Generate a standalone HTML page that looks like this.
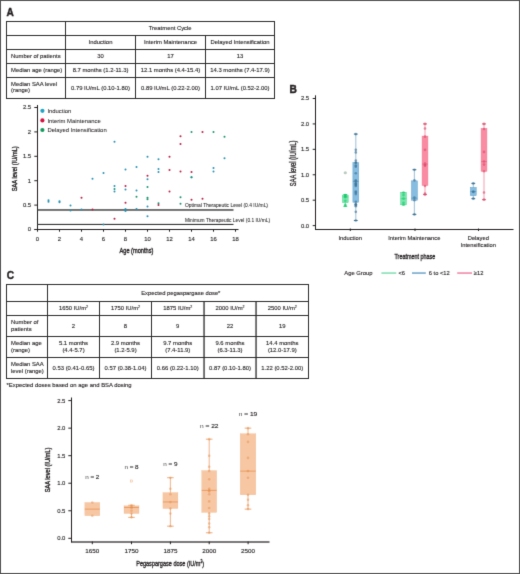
<!DOCTYPE html>
<html><head><meta charset="utf-8"><style>
html,body{margin:0;padding:0;background:#fff;}
svg{display:block;}
text{font-family:"Liberation Sans", sans-serif;stroke:#231f20;stroke-width:0.12px;}
</style></head><body>
<svg width="520" height="574" viewBox="0 0 520 574">
<defs><filter id="soft" x="0" y="0" width="520" height="574" filterUnits="userSpaceOnUse" color-interpolation-filters="sRGB"><feConvolveMatrix order="3" kernelMatrix="1.1 8.4 1.1 8.4 62 8.4 1.1 8.4 1.1" edgeMode="duplicate"/></filter></defs>
<g filter="url(#soft)">
<rect width="520" height="574" fill="#fff"/>
<rect x="0" y="0" width="520" height="1" fill="#505050"/>
<rect x="0" y="573" width="520" height="1" fill="#505050"/>
<rect x="0" y="0" width="1" height="574" fill="#505050"/>
<rect x="519" y="0" width="1" height="574" fill="#505050"/>
<text x="6.5" y="15.6" font-size="10.1" text-anchor="start" fill="#231f20" font-weight="bold" style="stroke-width:0.4px">A</text>
<rect x="6" y="21" width="269" height="1" fill="#2b2b2b"/>
<rect x="6" y="35" width="269" height="1" fill="#2b2b2b"/>
<rect x="6" y="49" width="269" height="1" fill="#2b2b2b"/>
<rect x="6" y="63" width="269" height="1" fill="#2b2b2b"/>
<rect x="6" y="77" width="269" height="1" fill="#2b2b2b"/>
<rect x="6" y="98" width="269" height="1" fill="#2b2b2b"/>
<rect x="6" y="21" width="1" height="78" fill="#2b2b2b"/>
<rect x="65" y="21" width="1" height="78" fill="#2b2b2b"/>
<rect x="135" y="35" width="1" height="64" fill="#2b2b2b"/>
<rect x="205" y="35" width="1" height="64" fill="#2b2b2b"/>
<rect x="274" y="21" width="1" height="78" fill="#2b2b2b"/>
<text x="170.2" y="30.2" font-size="5.88" text-anchor="middle" fill="#231f20">Treatment Cycle</text>
<text x="100.5" y="44.1" font-size="5.88" text-anchor="middle" fill="#231f20">Induction</text>
<text x="170.5" y="44.1" font-size="5.88" text-anchor="middle" fill="#231f20">Interim Maintenance</text>
<text x="240.0" y="44.1" font-size="5.88" text-anchor="middle" fill="#231f20">Delayed Intensification</text>
<text x="11" y="58.2" font-size="5.88" text-anchor="start" fill="#231f20">Number of patients</text>
<text x="100.5" y="58.2" font-size="5.88" text-anchor="middle" fill="#231f20">30</text>
<text x="170.5" y="58.2" font-size="5.88" text-anchor="middle" fill="#231f20">17</text>
<text x="240.0" y="58.2" font-size="5.88" text-anchor="middle" fill="#231f20">13</text>
<text x="11" y="72.2" font-size="5.88" text-anchor="start" fill="#231f20">Median age (range)</text>
<text x="100.5" y="72.2" font-size="5.88" text-anchor="middle" fill="#231f20">8.7 months (1.2-11.3)</text>
<text x="170.5" y="72.2" font-size="5.88" text-anchor="middle" fill="#231f20">12.1 months (4.4-15.4)</text>
<text x="240.0" y="72.2" font-size="5.88" text-anchor="middle" fill="#231f20">14.3 months (7.4-17.9)</text>
<text x="11" y="85.6" font-size="5.88" text-anchor="start" fill="#231f20">Median SAA level</text>
<text x="11" y="92.3" font-size="5.88" text-anchor="start" fill="#231f20">(range)</text>
<text x="100.5" y="89.5" font-size="5.88" text-anchor="middle" fill="#231f20">0.79 IU/mL (0.10-1.80)</text>
<text x="170.5" y="89.5" font-size="5.88" text-anchor="middle" fill="#231f20">0.89 IU/mL (0.22-2.00)</text>
<text x="240.0" y="89.5" font-size="5.88" text-anchor="middle" fill="#231f20">1.07 IU/mL (0.52-2.00)</text>
<rect x="37" y="105" width="1" height="125" fill="#231f20"/>
<rect x="34.5" y="229" width="204.0" height="1" fill="#231f20"/>
<rect x="34.3" y="229.00" width="3" height="1" fill="#231f20"/>
<text x="31.1" y="231.45" font-size="5.9" text-anchor="end" fill="#231f20">0</text>
<rect x="34.3" y="204.60" width="3" height="1" fill="#231f20"/>
<text x="31.1" y="207.04999999999998" font-size="5.9" text-anchor="end" fill="#231f20">0.5</text>
<rect x="34.3" y="180.20" width="3" height="1" fill="#231f20"/>
<text x="31.1" y="182.64999999999998" font-size="5.9" text-anchor="end" fill="#231f20">1</text>
<rect x="34.3" y="155.80" width="3" height="1" fill="#231f20"/>
<text x="31.1" y="158.25" font-size="5.9" text-anchor="end" fill="#231f20">1.5</text>
<rect x="34.3" y="131.40" width="3" height="1" fill="#231f20"/>
<text x="31.1" y="133.85" font-size="5.9" text-anchor="end" fill="#231f20">2</text>
<rect x="34.3" y="107.00" width="3" height="1" fill="#231f20"/>
<text x="31.1" y="109.45" font-size="5.9" text-anchor="end" fill="#231f20">2.5</text>
<rect x="37.00" y="229" width="1" height="2.7" fill="#231f20"/>
<text x="37.5" y="240.7" font-size="5.9" text-anchor="middle" fill="#231f20">0</text>
<rect x="59.00" y="229" width="1" height="2.7" fill="#231f20"/>
<text x="59.5" y="240.7" font-size="5.9" text-anchor="middle" fill="#231f20">2</text>
<rect x="81.00" y="229" width="1" height="2.7" fill="#231f20"/>
<text x="81.5" y="240.7" font-size="5.9" text-anchor="middle" fill="#231f20">4</text>
<rect x="103.00" y="229" width="1" height="2.7" fill="#231f20"/>
<text x="103.5" y="240.7" font-size="5.9" text-anchor="middle" fill="#231f20">6</text>
<rect x="125.00" y="229" width="1" height="2.7" fill="#231f20"/>
<text x="125.5" y="240.7" font-size="5.9" text-anchor="middle" fill="#231f20">8</text>
<rect x="147.00" y="229" width="1" height="2.7" fill="#231f20"/>
<text x="147.5" y="240.7" font-size="5.9" text-anchor="middle" fill="#231f20">10</text>
<rect x="169.00" y="229" width="1" height="2.7" fill="#231f20"/>
<text x="169.5" y="240.7" font-size="5.9" text-anchor="middle" fill="#231f20">12</text>
<rect x="191.00" y="229" width="1" height="2.7" fill="#231f20"/>
<text x="191.5" y="240.7" font-size="5.9" text-anchor="middle" fill="#231f20">14</text>
<rect x="213.00" y="229" width="1" height="2.7" fill="#231f20"/>
<text x="213.5" y="240.7" font-size="5.9" text-anchor="middle" fill="#231f20">16</text>
<rect x="235.00" y="229" width="1" height="2.7" fill="#231f20"/>
<text x="235.5" y="240.7" font-size="5.9" text-anchor="middle" fill="#231f20">18</text>
<rect x="37" y="209.3" width="196.5" height="1.35" fill="#333333"/>
<rect x="37" y="223.9" width="196.5" height="1.1" fill="#333333"/>
<text x="185" y="207.4" font-size="5.0" text-anchor="start" fill="#231f20" textLength="83" lengthAdjust="spacingAndGlyphs" style="stroke-width:0.06px">Optimal Therapeutic Level (0.4 IU/mL)</text>
<text x="185" y="221.9" font-size="5.0" text-anchor="start" fill="#231f20" textLength="85" lengthAdjust="spacingAndGlyphs" style="stroke-width:0.06px">Minimum Therapeutic Level (0.1 IU/mL)</text>
<text x="136.45" y="253.0" font-size="7.8" text-anchor="middle" fill="#231f20" textLength="33.9" lengthAdjust="spacingAndGlyphs" style="stroke-width:0.38px">Age (months)</text>
<text x="17.3" y="168.8" font-size="7.8" text-anchor="middle" fill="#231f20" textLength="45" lengthAdjust="spacingAndGlyphs" transform="rotate(-90 17.3 168.8)" style="stroke-width:0.38px">SAA level (IU/mL)</text>
<circle cx="42.4" cy="110.8" r="2.1" fill="#1fa3c4"/>
<text x="47.4" y="112.9" font-size="5.9" text-anchor="start" fill="#231f20" style="stroke-width:0.05px">Induction</text>
<circle cx="42.4" cy="120.4" r="2.1" fill="#d3123f"/>
<text x="47.4" y="122.5" font-size="5.9" text-anchor="start" fill="#231f20" style="stroke-width:0.05px">Interim Maintenance</text>
<circle cx="42.4" cy="130.0" r="2.1" fill="#139a5e"/>
<text x="47.4" y="131.9" font-size="5.9" text-anchor="start" fill="#231f20" style="stroke-width:0.05px">Delayed Intensification</text>
<circle cx="48.50" cy="200.22" r="1.0" fill="#2590b0"/>
<circle cx="48.50" cy="201.68" r="1.0" fill="#2590b0"/>
<circle cx="59.50" cy="201.20" r="1.0" fill="#2590b0"/>
<circle cx="59.50" cy="202.17" r="1.0" fill="#2590b0"/>
<circle cx="70.50" cy="205.59" r="1.0" fill="#2590b0"/>
<circle cx="70.50" cy="210.47" r="1.0" fill="#2590b0"/>
<circle cx="81.50" cy="209.49" r="1.0" fill="#2590b0"/>
<circle cx="92.50" cy="178.75" r="1.0" fill="#2590b0"/>
<circle cx="103.50" cy="172.89" r="1.0" fill="#2590b0"/>
<circle cx="103.50" cy="224.62" r="1.0" fill="#2590b0"/>
<circle cx="114.50" cy="141.66" r="1.0" fill="#2590b0"/>
<circle cx="114.50" cy="186.07" r="1.0" fill="#2590b0"/>
<circle cx="114.50" cy="191.44" r="1.0" fill="#2590b0"/>
<circle cx="125.50" cy="169.48" r="1.0" fill="#2590b0"/>
<circle cx="125.50" cy="189.48" r="1.0" fill="#2590b0"/>
<circle cx="125.50" cy="209.00" r="1.0" fill="#2590b0"/>
<circle cx="125.50" cy="209.98" r="1.0" fill="#2590b0"/>
<circle cx="125.50" cy="210.96" r="1.0" fill="#2590b0"/>
<circle cx="136.50" cy="167.04" r="1.0" fill="#2590b0"/>
<circle cx="136.50" cy="190.46" r="1.0" fill="#2590b0"/>
<circle cx="136.50" cy="209.00" r="1.0" fill="#2590b0"/>
<circle cx="147.50" cy="156.79" r="1.0" fill="#2590b0"/>
<circle cx="147.50" cy="179.24" r="1.0" fill="#2590b0"/>
<circle cx="147.50" cy="206.56" r="1.0" fill="#2590b0"/>
<circle cx="147.50" cy="216.32" r="1.0" fill="#2590b0"/>
<circle cx="158.50" cy="159.23" r="1.0" fill="#2590b0"/>
<circle cx="158.50" cy="168.99" r="1.0" fill="#2590b0"/>
<circle cx="158.50" cy="171.92" r="1.0" fill="#2590b0"/>
<circle cx="191.50" cy="177.28" r="1.0" fill="#2590b0"/>
<circle cx="213.50" cy="168.01" r="1.0" fill="#2590b0"/>
<circle cx="213.50" cy="171.43" r="1.0" fill="#2590b0"/>
<circle cx="224.50" cy="158.25" r="1.0" fill="#2590b0"/>
<circle cx="81.50" cy="197.78" r="1.0" fill="#b81c44"/>
<circle cx="92.50" cy="209.49" r="1.0" fill="#b81c44"/>
<circle cx="114.50" cy="218.76" r="1.0" fill="#b81c44"/>
<circle cx="125.50" cy="186.07" r="1.0" fill="#b81c44"/>
<circle cx="125.50" cy="202.66" r="1.0" fill="#b81c44"/>
<circle cx="147.50" cy="175.82" r="1.0" fill="#b81c44"/>
<circle cx="158.50" cy="205.10" r="1.0" fill="#b81c44"/>
<circle cx="169.50" cy="156.79" r="1.0" fill="#b81c44"/>
<circle cx="169.50" cy="169.96" r="1.0" fill="#b81c44"/>
<circle cx="169.50" cy="191.44" r="1.0" fill="#b81c44"/>
<circle cx="180.50" cy="136.29" r="1.0" fill="#b81c44"/>
<circle cx="180.50" cy="144.10" r="1.0" fill="#b81c44"/>
<circle cx="180.50" cy="171.43" r="1.0" fill="#b81c44"/>
<circle cx="191.50" cy="171.92" r="1.0" fill="#b81c44"/>
<circle cx="191.50" cy="199.73" r="1.0" fill="#b81c44"/>
<circle cx="202.50" cy="131.90" r="1.0" fill="#b81c44"/>
<circle cx="202.50" cy="198.76" r="1.0" fill="#b81c44"/>
<circle cx="114.50" cy="189.00" r="1.0" fill="#1a9070"/>
<circle cx="136.50" cy="196.80" r="1.0" fill="#1a9070"/>
<circle cx="147.50" cy="187.04" r="1.0" fill="#1a9070"/>
<circle cx="147.50" cy="197.78" r="1.0" fill="#1a9070"/>
<circle cx="147.50" cy="199.24" r="1.0" fill="#1a9070"/>
<circle cx="158.50" cy="203.15" r="1.0" fill="#1a9070"/>
<circle cx="180.50" cy="197.29" r="1.0" fill="#1a9070"/>
<circle cx="180.50" cy="203.64" r="1.0" fill="#1a9070"/>
<circle cx="191.50" cy="131.90" r="1.0" fill="#1a9070"/>
<circle cx="191.50" cy="177.28" r="1.0" fill="#1a9070"/>
<circle cx="213.50" cy="131.90" r="1.0" fill="#1a9070"/>
<circle cx="224.50" cy="136.78" r="1.0" fill="#1a9070"/>
<text x="289.4" y="92.6" font-size="10.2" text-anchor="start" fill="#231f20" font-weight="bold" style="stroke-width:0.45px">B</text>
<rect x="315" y="95.3" width="1" height="134.7" fill="#231f20"/>
<rect x="315" y="229" width="198.5" height="1" fill="#231f20"/>
<rect x="312.7" y="225.10" width="2.5" height="1" fill="#231f20"/>
<text x="309.1" y="227.54999999999998" font-size="5.9" text-anchor="end" fill="#231f20">0.0</text>
<rect x="312.7" y="199.68" width="2.5" height="1" fill="#231f20"/>
<text x="309.1" y="202.13" font-size="5.9" text-anchor="end" fill="#231f20">0.5</text>
<rect x="312.7" y="174.26" width="2.5" height="1" fill="#231f20"/>
<text x="309.1" y="176.70999999999998" font-size="5.9" text-anchor="end" fill="#231f20">1.0</text>
<rect x="312.7" y="148.84" width="2.5" height="1" fill="#231f20"/>
<text x="309.1" y="151.28999999999996" font-size="5.9" text-anchor="end" fill="#231f20">1.5</text>
<rect x="312.7" y="123.42" width="2.5" height="1" fill="#231f20"/>
<text x="309.1" y="125.86999999999999" font-size="5.9" text-anchor="end" fill="#231f20">2.0</text>
<rect x="312.7" y="98.00" width="2.5" height="1" fill="#231f20"/>
<text x="309.1" y="100.44999999999999" font-size="5.9" text-anchor="end" fill="#231f20">2.5</text>
<rect x="349.8" y="228.5" width="1" height="2.5" fill="#231f20"/>
<rect x="414.5" y="228.5" width="1" height="2.5" fill="#231f20"/>
<rect x="478.0" y="228.5" width="1" height="2.5" fill="#231f20"/>
<text x="350.2" y="240.1" font-size="5.75" text-anchor="middle" fill="#231f20">Induction</text>
<text x="414.3" y="240.1" font-size="5.75" text-anchor="middle" fill="#231f20">Interim Maintenance</text>
<text x="478.3" y="240.1" font-size="5.75" text-anchor="middle" fill="#231f20">Delayed</text>
<text x="478.3" y="247.2" font-size="5.75" text-anchor="middle" fill="#231f20">Intensification</text>
<text x="414.85" y="258.8" font-size="7.6" text-anchor="middle" fill="#231f20" textLength="40.7" lengthAdjust="spacingAndGlyphs" style="stroke-width:0.34px">Treatment phase</text>
<text x="296.4" y="163.4" font-size="8.2" text-anchor="middle" fill="#231f20" textLength="45.6" lengthAdjust="spacingAndGlyphs" transform="rotate(-90 296.4 163.4)" style="stroke-width:0.34px">SAA level (IU/mL)</text>
<text x="344.3" y="275" font-size="5.85" text-anchor="start" fill="#231f20">Age Group</text>
<rect x="381.4" y="272.4" width="14.900000000000034" height="1.3" fill="#6cd9a6"/>
<text x="398.4" y="275" font-size="5.75" text-anchor="start" fill="#231f20">&lt;6</text>
<rect x="412" y="272.4" width="13.800000000000011" height="1.3" fill="#5596c2"/>
<text x="428.8" y="275" font-size="5.75" text-anchor="start" fill="#231f20">6 to &lt;12</text>
<rect x="457.2" y="272.4" width="14.800000000000011" height="1.3" fill="#ef6f93"/>
<text x="473.8" y="275" font-size="5.75" text-anchor="start" fill="#231f20">≥12</text>
<line x1="345.3" x2="345.3" y1="194.59" y2="206.28" stroke="#7fe0ae" stroke-width="1.1"/>
<line x1="343.40000000000003" x2="347.2" y1="194.59" y2="194.59" stroke="#16c96a" stroke-width="1"/>
<line x1="343.40000000000003" x2="347.2" y1="206.28" y2="206.28" stroke="#16c96a" stroke-width="1"/>
<rect x="342.40" y="195.10" width="5.8" height="7.63" fill="#7de6ae" stroke="#4fd892" stroke-width="0.5"/>
<line x1="342.40" x2="348.20" y1="196.88" y2="196.88" stroke="#16c96a" stroke-width="0.6" stroke-opacity="0.7"/>
<circle cx="345.3" cy="205.77" r="1.3" fill="#16c96a" fill-opacity="0.62"/>
<circle cx="345.3" cy="204.76" r="1.3" fill="#16c96a" fill-opacity="0.62"/>
<circle cx="345.3" cy="200.69" r="1.3" fill="#16c96a" fill-opacity="0.62"/>
<circle cx="345.3" cy="197.13" r="1.3" fill="#16c96a" fill-opacity="0.62"/>
<circle cx="345.3" cy="196.62" r="1.3" fill="#16c96a" fill-opacity="0.62"/>
<circle cx="345.3" cy="196.11" r="1.3" fill="#16c96a" fill-opacity="0.62"/>
<circle cx="345.3" cy="195.10" r="1.3" fill="#16c96a" fill-opacity="0.62"/>
<circle cx="345.3" cy="172.73" r="1.6" fill="#b9cbbf"/>
<line x1="355.8" x2="355.8" y1="134.09" y2="220.52" stroke="#a5c6da" stroke-width="1.1"/>
<line x1="353.90000000000003" x2="357.7" y1="134.09" y2="134.09" stroke="#3a6f92" stroke-width="1"/>
<line x1="353.90000000000003" x2="357.7" y1="220.52" y2="220.52" stroke="#3a6f92" stroke-width="1"/>
<rect x="352.90" y="162.56" width="5.8" height="39.66" fill="#86bde0" stroke="#5d9fcb" stroke-width="0.5"/>
<line x1="352.90" x2="358.70" y1="181.37" y2="181.37" stroke="#3a6f92" stroke-width="0.6" stroke-opacity="0.7"/>
<circle cx="355.8" cy="220.52" r="1.3" fill="#3a6f92" fill-opacity="0.62"/>
<circle cx="355.8" cy="211.87" r="1.3" fill="#3a6f92" fill-opacity="0.62"/>
<circle cx="355.8" cy="206.28" r="1.3" fill="#3a6f92" fill-opacity="0.62"/>
<circle cx="355.8" cy="205.26" r="1.3" fill="#3a6f92" fill-opacity="0.62"/>
<circle cx="355.8" cy="204.25" r="1.3" fill="#3a6f92" fill-opacity="0.62"/>
<circle cx="355.8" cy="204.25" r="1.3" fill="#3a6f92" fill-opacity="0.62"/>
<circle cx="355.8" cy="201.71" r="1.3" fill="#3a6f92" fill-opacity="0.62"/>
<circle cx="355.8" cy="194.08" r="1.3" fill="#3a6f92" fill-opacity="0.62"/>
<circle cx="355.8" cy="192.55" r="1.3" fill="#3a6f92" fill-opacity="0.62"/>
<circle cx="355.8" cy="191.54" r="1.3" fill="#3a6f92" fill-opacity="0.62"/>
<circle cx="355.8" cy="185.94" r="1.3" fill="#3a6f92" fill-opacity="0.62"/>
<circle cx="355.8" cy="184.93" r="1.3" fill="#3a6f92" fill-opacity="0.62"/>
<circle cx="355.8" cy="183.91" r="1.3" fill="#3a6f92" fill-opacity="0.62"/>
<circle cx="355.8" cy="183.40" r="1.3" fill="#3a6f92" fill-opacity="0.62"/>
<circle cx="355.8" cy="181.37" r="1.3" fill="#3a6f92" fill-opacity="0.62"/>
<circle cx="355.8" cy="180.35" r="1.3" fill="#3a6f92" fill-opacity="0.62"/>
<circle cx="355.8" cy="173.23" r="1.3" fill="#3a6f92" fill-opacity="0.62"/>
<circle cx="355.8" cy="166.63" r="1.3" fill="#3a6f92" fill-opacity="0.62"/>
<circle cx="355.8" cy="165.61" r="1.3" fill="#3a6f92" fill-opacity="0.62"/>
<circle cx="355.8" cy="163.07" r="1.3" fill="#3a6f92" fill-opacity="0.62"/>
<circle cx="355.8" cy="162.56" r="1.3" fill="#3a6f92" fill-opacity="0.62"/>
<circle cx="355.8" cy="160.52" r="1.3" fill="#3a6f92" fill-opacity="0.62"/>
<circle cx="355.8" cy="152.39" r="1.3" fill="#3a6f92" fill-opacity="0.62"/>
<circle cx="355.8" cy="149.85" r="1.3" fill="#3a6f92" fill-opacity="0.62"/>
<circle cx="355.8" cy="134.09" r="1.3" fill="#3a6f92" fill-opacity="0.62"/>
<line x1="403.5" x2="403.5" y1="192.55" y2="204.76" stroke="#7fe0ae" stroke-width="1.1"/>
<line x1="401.6" x2="405.4" y1="192.55" y2="192.55" stroke="#16c96a" stroke-width="1"/>
<line x1="401.6" x2="405.4" y1="204.76" y2="204.76" stroke="#16c96a" stroke-width="1"/>
<rect x="400.60" y="192.55" width="5.8" height="12.20" fill="#7de6ae" stroke="#4fd892" stroke-width="0.5"/>
<line x1="400.60" x2="406.40" y1="198.65" y2="198.65" stroke="#16c96a" stroke-width="0.6" stroke-opacity="0.7"/>
<circle cx="403.5" cy="204.76" r="1.3" fill="#16c96a" fill-opacity="0.62"/>
<circle cx="403.5" cy="202.72" r="1.3" fill="#16c96a" fill-opacity="0.62"/>
<circle cx="403.5" cy="198.65" r="1.3" fill="#16c96a" fill-opacity="0.62"/>
<circle cx="403.5" cy="195.10" r="1.3" fill="#16c96a" fill-opacity="0.62"/>
<circle cx="403.5" cy="192.55" r="1.3" fill="#16c96a" fill-opacity="0.62"/>
<line x1="414.4" x2="414.4" y1="169.68" y2="214.42" stroke="#a5c6da" stroke-width="1.1"/>
<line x1="412.5" x2="416.29999999999995" y1="169.68" y2="169.68" stroke="#3a6f92" stroke-width="1"/>
<line x1="412.5" x2="416.29999999999995" y1="214.42" y2="214.42" stroke="#3a6f92" stroke-width="1"/>
<rect x="411.50" y="180.86" width="5.8" height="19.32" fill="#86bde0" stroke="#5d9fcb" stroke-width="0.5"/>
<line x1="411.50" x2="417.30" y1="198.15" y2="198.15" stroke="#3a6f92" stroke-width="0.6" stroke-opacity="0.7"/>
<circle cx="414.4" cy="214.42" r="1.3" fill="#3a6f92" fill-opacity="0.62"/>
<circle cx="414.4" cy="200.18" r="1.3" fill="#3a6f92" fill-opacity="0.62"/>
<circle cx="414.4" cy="197.64" r="1.3" fill="#3a6f92" fill-opacity="0.62"/>
<circle cx="414.4" cy="180.35" r="1.3" fill="#3a6f92" fill-opacity="0.62"/>
<circle cx="414.4" cy="169.68" r="1.3" fill="#3a6f92" fill-opacity="0.62"/>
<line x1="425.0" x2="425.0" y1="123.92" y2="194.59" stroke="#f4a7b7" stroke-width="1.1"/>
<line x1="423.1" x2="426.9" y1="123.92" y2="123.92" stroke="#d94a6c" stroke-width="1"/>
<line x1="423.1" x2="426.9" y1="194.59" y2="194.59" stroke="#d94a6c" stroke-width="1"/>
<rect x="422.10" y="136.12" width="5.8" height="49.31" fill="#f98ca2" stroke="#f2758f" stroke-width="0.5"/>
<line x1="422.10" x2="427.90" y1="164.08" y2="164.08" stroke="#d94a6c" stroke-width="0.6" stroke-opacity="0.7"/>
<circle cx="425.0" cy="194.59" r="1.3" fill="#d94a6c" fill-opacity="0.62"/>
<circle cx="425.0" cy="193.57" r="1.3" fill="#d94a6c" fill-opacity="0.62"/>
<circle cx="425.0" cy="185.94" r="1.3" fill="#d94a6c" fill-opacity="0.62"/>
<circle cx="425.0" cy="165.61" r="1.3" fill="#d94a6c" fill-opacity="0.62"/>
<circle cx="425.0" cy="165.10" r="1.3" fill="#d94a6c" fill-opacity="0.62"/>
<circle cx="425.0" cy="163.58" r="1.3" fill="#d94a6c" fill-opacity="0.62"/>
<circle cx="425.0" cy="149.85" r="1.3" fill="#d94a6c" fill-opacity="0.62"/>
<circle cx="425.0" cy="136.63" r="1.3" fill="#d94a6c" fill-opacity="0.62"/>
<circle cx="425.0" cy="128.50" r="1.3" fill="#d94a6c" fill-opacity="0.62"/>
<circle cx="425.0" cy="123.92" r="1.3" fill="#d94a6c" fill-opacity="0.62"/>
<line x1="473.3" x2="473.3" y1="183.40" y2="198.65" stroke="#a5c6da" stroke-width="1.1"/>
<line x1="471.40000000000003" x2="475.2" y1="183.40" y2="183.40" stroke="#3a6f92" stroke-width="1"/>
<line x1="471.40000000000003" x2="475.2" y1="198.65" y2="198.65" stroke="#3a6f92" stroke-width="1"/>
<rect x="470.40" y="187.47" width="5.8" height="8.13" fill="#86bde0" stroke="#5d9fcb" stroke-width="0.5"/>
<line x1="470.40" x2="476.20" y1="191.54" y2="191.54" stroke="#3a6f92" stroke-width="0.6" stroke-opacity="0.7"/>
<circle cx="473.3" cy="198.65" r="1.3" fill="#3a6f92" fill-opacity="0.62"/>
<circle cx="473.3" cy="192.05" r="1.3" fill="#3a6f92" fill-opacity="0.62"/>
<circle cx="473.3" cy="191.54" r="1.3" fill="#3a6f92" fill-opacity="0.62"/>
<circle cx="473.3" cy="183.40" r="1.3" fill="#3a6f92" fill-opacity="0.62"/>
<line x1="484.0" x2="484.0" y1="123.92" y2="199.67" stroke="#f4a7b7" stroke-width="1.1"/>
<line x1="482.1" x2="485.9" y1="123.92" y2="123.92" stroke="#d94a6c" stroke-width="1"/>
<line x1="482.1" x2="485.9" y1="199.67" y2="199.67" stroke="#d94a6c" stroke-width="1"/>
<rect x="481.10" y="128.50" width="5.8" height="42.71" fill="#f98ca2" stroke="#f2758f" stroke-width="0.5"/>
<line x1="481.10" x2="486.90" y1="161.54" y2="161.54" stroke="#d94a6c" stroke-width="0.6" stroke-opacity="0.7"/>
<circle cx="484.0" cy="199.67" r="1.3" fill="#d94a6c" fill-opacity="0.62"/>
<circle cx="484.0" cy="192.55" r="1.3" fill="#d94a6c" fill-opacity="0.62"/>
<circle cx="484.0" cy="171.20" r="1.3" fill="#d94a6c" fill-opacity="0.62"/>
<circle cx="484.0" cy="164.59" r="1.3" fill="#d94a6c" fill-opacity="0.62"/>
<circle cx="484.0" cy="161.54" r="1.3" fill="#d94a6c" fill-opacity="0.62"/>
<circle cx="484.0" cy="151.88" r="1.3" fill="#d94a6c" fill-opacity="0.62"/>
<circle cx="484.0" cy="129.00" r="1.3" fill="#d94a6c" fill-opacity="0.62"/>
<circle cx="484.0" cy="123.92" r="1.3" fill="#d94a6c" fill-opacity="0.62"/>
<text x="6.7" y="278.7" font-size="10.2" text-anchor="start" fill="#231f20" font-weight="bold" style="stroke-width:0.4px">C</text>
<rect x="6" y="284" width="303" height="1" fill="#2b2b2b"/>
<rect x="6" y="301" width="303" height="1" fill="#2b2b2b"/>
<rect x="6" y="315" width="303" height="1" fill="#2b2b2b"/>
<rect x="6" y="336" width="303" height="1" fill="#2b2b2b"/>
<rect x="6" y="357" width="303" height="1" fill="#2b2b2b"/>
<rect x="6" y="378" width="303" height="1" fill="#2b2b2b"/>
<rect x="6" y="284" width="1" height="95" fill="#2b2b2b"/>
<rect x="47" y="284" width="1" height="95" fill="#2b2b2b"/>
<rect x="99" y="301" width="1" height="78" fill="#2b2b2b"/>
<rect x="151" y="301" width="1" height="78" fill="#2b2b2b"/>
<rect x="203.4" y="301" width="1.3" height="78" fill="#2b2b2b"/>
<rect x="255.4" y="301" width="1.3" height="78" fill="#2b2b2b"/>
<rect x="308" y="284" width="1" height="95" fill="#2b2b2b"/>
<text x="180.8" y="294.7" font-size="5.82" text-anchor="middle" fill="#231f20">Expected pegaspargase dose*</text>
<text x="73.5" y="310.3" font-size="5.88" text-anchor="middle" fill="#231f20">1650 IU/m<tspan font-size="3.6" dy="-2.2">2</tspan></text>
<text x="125.5" y="310.3" font-size="5.88" text-anchor="middle" fill="#231f20">1750 IU/m<tspan font-size="3.6" dy="-2.2">2</tspan></text>
<text x="177.75" y="310.3" font-size="5.88" text-anchor="middle" fill="#231f20">1875 IU/m<tspan font-size="3.6" dy="-2.2">2</tspan></text>
<text x="230.0" y="310.3" font-size="5.88" text-anchor="middle" fill="#231f20">2000 IU/m<tspan font-size="3.6" dy="-2.2">2</tspan></text>
<text x="282.25" y="310.3" font-size="5.88" text-anchor="middle" fill="#231f20">2500 IU/m<tspan font-size="3.6" dy="-2.2">2</tspan></text>
<text x="11" y="324.0" font-size="5.88" text-anchor="start" fill="#231f20">Number of</text>
<text x="11" y="330.7" font-size="5.88" text-anchor="start" fill="#231f20">patients</text>
<text x="73.5" y="327.7" font-size="5.88" text-anchor="middle" fill="#231f20">2</text>
<text x="125.5" y="327.7" font-size="5.88" text-anchor="middle" fill="#231f20">8</text>
<text x="177.75" y="327.7" font-size="5.88" text-anchor="middle" fill="#231f20">9</text>
<text x="230.0" y="327.7" font-size="5.88" text-anchor="middle" fill="#231f20">22</text>
<text x="282.25" y="327.7" font-size="5.88" text-anchor="middle" fill="#231f20">19</text>
<text x="11" y="345.2" font-size="5.88" text-anchor="start" fill="#231f20">Median age</text>
<text x="11" y="351.9" font-size="5.88" text-anchor="start" fill="#231f20">(range)</text>
<text x="73.5" y="345.2" font-size="5.88" text-anchor="middle" fill="#231f20">5.1 months</text>
<text x="73.5" y="351.9" font-size="5.88" text-anchor="middle" fill="#231f20">(4.4-5.7)</text>
<text x="125.5" y="345.2" font-size="5.88" text-anchor="middle" fill="#231f20">2.9 months</text>
<text x="125.5" y="351.9" font-size="5.88" text-anchor="middle" fill="#231f20">(1.2-5.9)</text>
<text x="177.75" y="345.2" font-size="5.88" text-anchor="middle" fill="#231f20">9.7 months</text>
<text x="177.75" y="351.9" font-size="5.88" text-anchor="middle" fill="#231f20">(7.4-11.9)</text>
<text x="230.0" y="345.2" font-size="5.88" text-anchor="middle" fill="#231f20">9.6 months</text>
<text x="230.0" y="351.9" font-size="5.88" text-anchor="middle" fill="#231f20">(6.3-11.3)</text>
<text x="282.25" y="345.2" font-size="5.88" text-anchor="middle" fill="#231f20">14.4 months</text>
<text x="282.25" y="351.9" font-size="5.88" text-anchor="middle" fill="#231f20">(12.0-17.9)</text>
<text x="11" y="366.2" font-size="5.88" text-anchor="start" fill="#231f20">Median SAA</text>
<text x="11" y="372.9" font-size="5.88" text-anchor="start" fill="#231f20">level (range)</text>
<text x="73.5" y="369.6" font-size="5.88" text-anchor="middle" fill="#231f20">0.53 (0.41-0.65)</text>
<text x="125.5" y="369.6" font-size="5.88" text-anchor="middle" fill="#231f20">0.57 (0.38-1.04)</text>
<text x="177.75" y="369.6" font-size="5.88" text-anchor="middle" fill="#231f20">0.66 (0.22-1.10)</text>
<text x="230.0" y="369.6" font-size="5.88" text-anchor="middle" fill="#231f20">0.87 (0.10-1.80)</text>
<text x="282.25" y="369.6" font-size="5.88" text-anchor="middle" fill="#231f20">1.22 (0.52-2.00)</text>
<text x="6.5" y="386.8" font-size="5.9" text-anchor="start" fill="#231f20">*Expected doses based on age and BSA dosing</text>
<rect x="71" y="397.5" width="1" height="144.79999999999995" fill="#231f20"/>
<rect x="71" y="541.4" width="198.5" height="1.2" fill="#231f20"/>
<rect x="68.3" y="537.80" width="3" height="1" fill="#231f20"/>
<text x="65.4" y="540.25" font-size="5.9" text-anchor="end" fill="#231f20">0.0</text>
<rect x="68.3" y="510.26" width="3" height="1" fill="#231f20"/>
<text x="65.4" y="512.7099999999999" font-size="5.9" text-anchor="end" fill="#231f20">0.5</text>
<rect x="68.3" y="482.72" width="3" height="1" fill="#231f20"/>
<text x="65.4" y="485.16999999999996" font-size="5.9" text-anchor="end" fill="#231f20">1.0</text>
<rect x="68.3" y="455.18" width="3" height="1" fill="#231f20"/>
<text x="65.4" y="457.62999999999994" font-size="5.9" text-anchor="end" fill="#231f20">1.5</text>
<rect x="68.3" y="427.64" width="3" height="1" fill="#231f20"/>
<text x="65.4" y="430.09" font-size="5.9" text-anchor="end" fill="#231f20">2.0</text>
<rect x="68.3" y="400.10" width="3" height="1" fill="#231f20"/>
<text x="65.4" y="402.54999999999995" font-size="5.9" text-anchor="end" fill="#231f20">2.5</text>
<rect x="91.8" y="541.5" width="1" height="2.7" fill="#231f20"/>
<text x="92.3" y="553.3" font-size="5.7" text-anchor="middle" fill="#231f20" textLength="14" lengthAdjust="spacingAndGlyphs">1650</text>
<rect x="131.0" y="541.5" width="1" height="2.7" fill="#231f20"/>
<text x="131.5" y="553.3" font-size="5.7" text-anchor="middle" fill="#231f20" textLength="14" lengthAdjust="spacingAndGlyphs">1750</text>
<rect x="169.9" y="541.5" width="1" height="2.7" fill="#231f20"/>
<text x="170.4" y="553.3" font-size="5.7" text-anchor="middle" fill="#231f20" textLength="14" lengthAdjust="spacingAndGlyphs">1875</text>
<rect x="208.7" y="541.5" width="1" height="2.7" fill="#231f20"/>
<text x="209.2" y="553.3" font-size="5.7" text-anchor="middle" fill="#231f20" textLength="14" lengthAdjust="spacingAndGlyphs">2000</text>
<rect x="247.6" y="541.5" width="1" height="2.7" fill="#231f20"/>
<text x="248.1" y="553.3" font-size="5.7" text-anchor="middle" fill="#231f20" textLength="14" lengthAdjust="spacingAndGlyphs">2500</text>
<text x="136.2" y="565.5" font-size="7.4" text-anchor="start" fill="#231f20" textLength="68" lengthAdjust="spacingAndGlyphs" style="stroke-width:0.34px">Pegaspargase dose (IU/m<tspan font-size="4.5" dy="-2.5">2</tspan><tspan dy="2.5">)</tspan></text>
<text x="50.4" y="470.0" font-size="6.8" text-anchor="middle" fill="#231f20" textLength="44.7" lengthAdjust="spacingAndGlyphs" transform="rotate(-90 50.4 470.0)" style="stroke-width:0.34px">SAA level (IU/mL)</text>
<rect x="84.80" y="502.50" width="15.0" height="13.22" fill="#f7c7a4" stroke="#eea673" stroke-opacity="0.5" stroke-width="0.4"/>
<line x1="84.80" x2="99.80" y1="509.11" y2="509.11" stroke="#e58a45" stroke-width="0.7"/>
<circle cx="92.3" cy="515.72" r="1.3" fill="#e58a45" fill-opacity="0.45"/>
<circle cx="92.3" cy="502.50" r="1.3" fill="#e58a45" fill-opacity="0.45"/>
<text x="92.3" y="479.4" font-size="5.6" text-anchor="middle" fill="#231f20" textLength="14.2" lengthAdjust="spacingAndGlyphs"><tspan fill="#444" style="stroke:none">n</tspan> = 2</text>
<line x1="131.5" x2="131.5" y1="505.25" y2="517.37" stroke="#eeac7e" stroke-width="0.9"/>
<line x1="128.2" x2="134.8" y1="505.25" y2="505.25" stroke="#e58a45" stroke-width="0.9" stroke-opacity="0.8"/>
<line x1="128.2" x2="134.8" y1="517.37" y2="517.37" stroke="#e58a45" stroke-width="0.9" stroke-opacity="0.8"/>
<rect x="124.00" y="505.80" width="15.0" height="7.71" fill="#f7c7a4" stroke="#eea673" stroke-opacity="0.5" stroke-width="0.4"/>
<line x1="124.00" x2="139.00" y1="507.46" y2="507.46" stroke="#e58a45" stroke-width="0.7"/>
<circle cx="131.5" cy="517.37" r="1.3" fill="#e58a45" fill-opacity="0.45"/>
<circle cx="131.5" cy="513.51" r="1.3" fill="#e58a45" fill-opacity="0.45"/>
<circle cx="131.5" cy="510.76" r="1.3" fill="#e58a45" fill-opacity="0.45"/>
<circle cx="131.5" cy="508.01" r="1.3" fill="#e58a45" fill-opacity="0.45"/>
<circle cx="131.5" cy="506.90" r="1.3" fill="#e58a45" fill-opacity="0.45"/>
<circle cx="131.5" cy="505.25" r="1.3" fill="#e58a45" fill-opacity="0.45"/>
<rect x="130.50" y="480.02" width="2" height="2" fill="none" stroke="#e58a45" stroke-width="0.5" stroke-opacity="0.7"/>
<text x="131.5" y="469.4" font-size="5.6" text-anchor="middle" fill="#231f20" textLength="14.2" lengthAdjust="spacingAndGlyphs"><tspan fill="#444" style="stroke:none">n</tspan> = 8</text>
<line x1="170.4" x2="170.4" y1="477.71" y2="526.18" stroke="#eeac7e" stroke-width="0.9"/>
<line x1="167.1" x2="173.70000000000002" y1="477.71" y2="477.71" stroke="#e58a45" stroke-width="0.9" stroke-opacity="0.8"/>
<line x1="167.1" x2="173.70000000000002" y1="526.18" y2="526.18" stroke="#e58a45" stroke-width="0.9" stroke-opacity="0.8"/>
<rect x="162.90" y="492.58" width="15.0" height="15.97" fill="#f7c7a4" stroke="#eea673" stroke-opacity="0.5" stroke-width="0.4"/>
<line x1="162.90" x2="177.90" y1="501.95" y2="501.95" stroke="#e58a45" stroke-width="0.7"/>
<circle cx="170.4" cy="526.18" r="1.3" fill="#e58a45" fill-opacity="0.45"/>
<circle cx="170.4" cy="513.51" r="1.3" fill="#e58a45" fill-opacity="0.45"/>
<circle cx="170.4" cy="508.56" r="1.3" fill="#e58a45" fill-opacity="0.45"/>
<circle cx="170.4" cy="501.95" r="1.3" fill="#e58a45" fill-opacity="0.45"/>
<circle cx="170.4" cy="494.24" r="1.3" fill="#e58a45" fill-opacity="0.45"/>
<circle cx="170.4" cy="488.73" r="1.3" fill="#e58a45" fill-opacity="0.45"/>
<circle cx="170.4" cy="477.71" r="1.3" fill="#e58a45" fill-opacity="0.45"/>
<text x="170.4" y="465.6" font-size="5.6" text-anchor="middle" fill="#231f20" textLength="14.2" lengthAdjust="spacingAndGlyphs"><tspan fill="#444" style="stroke:none">n</tspan> = 9</text>
<line x1="209.2" x2="209.2" y1="439.16" y2="532.79" stroke="#eeac7e" stroke-width="0.9"/>
<line x1="205.89999999999998" x2="212.5" y1="439.16" y2="439.16" stroke="#e58a45" stroke-width="0.9" stroke-opacity="0.8"/>
<line x1="205.89999999999998" x2="212.5" y1="532.79" y2="532.79" stroke="#e58a45" stroke-width="0.9" stroke-opacity="0.8"/>
<rect x="201.70" y="470.55" width="15.0" height="41.86" fill="#f7c7a4" stroke="#eea673" stroke-opacity="0.5" stroke-width="0.4"/>
<line x1="201.70" x2="216.70" y1="490.38" y2="490.38" stroke="#e58a45" stroke-width="0.7"/>
<circle cx="209.2" cy="532.79" r="1.3" fill="#e58a45" fill-opacity="0.45"/>
<circle cx="209.2" cy="527.28" r="1.3" fill="#e58a45" fill-opacity="0.45"/>
<circle cx="209.2" cy="523.43" r="1.3" fill="#e58a45" fill-opacity="0.45"/>
<circle cx="209.2" cy="519.02" r="1.3" fill="#e58a45" fill-opacity="0.45"/>
<circle cx="209.2" cy="516.27" r="1.3" fill="#e58a45" fill-opacity="0.45"/>
<circle cx="209.2" cy="513.51" r="1.3" fill="#e58a45" fill-opacity="0.45"/>
<circle cx="209.2" cy="508.01" r="1.3" fill="#e58a45" fill-opacity="0.45"/>
<circle cx="209.2" cy="501.40" r="1.3" fill="#e58a45" fill-opacity="0.45"/>
<circle cx="209.2" cy="494.24" r="1.3" fill="#e58a45" fill-opacity="0.45"/>
<circle cx="209.2" cy="491.48" r="1.3" fill="#e58a45" fill-opacity="0.45"/>
<circle cx="209.2" cy="490.38" r="1.3" fill="#e58a45" fill-opacity="0.45"/>
<circle cx="209.2" cy="488.73" r="1.3" fill="#e58a45" fill-opacity="0.45"/>
<circle cx="209.2" cy="479.36" r="1.3" fill="#e58a45" fill-opacity="0.45"/>
<circle cx="209.2" cy="471.10" r="1.3" fill="#e58a45" fill-opacity="0.45"/>
<circle cx="209.2" cy="466.70" r="1.3" fill="#e58a45" fill-opacity="0.45"/>
<circle cx="209.2" cy="455.68" r="1.3" fill="#e58a45" fill-opacity="0.45"/>
<circle cx="209.2" cy="439.16" r="1.3" fill="#e58a45" fill-opacity="0.45"/>
<text x="209.2" y="427.5" font-size="5.6" text-anchor="middle" fill="#231f20" textLength="18.6" lengthAdjust="spacingAndGlyphs"><tspan fill="#444" style="stroke:none">n</tspan> = 22</text>
<line x1="248.0" x2="248.0" y1="428.14" y2="509.11" stroke="#eeac7e" stroke-width="0.9"/>
<line x1="244.7" x2="251.3" y1="428.14" y2="428.14" stroke="#e58a45" stroke-width="0.9" stroke-opacity="0.8"/>
<line x1="244.7" x2="251.3" y1="509.11" y2="509.11" stroke="#e58a45" stroke-width="0.9" stroke-opacity="0.8"/>
<rect x="240.20" y="433.65" width="15.6" height="61.14" fill="#f7c7a4" stroke="#eea673" stroke-opacity="0.5" stroke-width="0.4"/>
<line x1="240.20" x2="255.80" y1="471.10" y2="471.10" stroke="#e58a45" stroke-width="0.7"/>
<circle cx="248.0" cy="509.11" r="1.3" fill="#e58a45" fill-opacity="0.45"/>
<circle cx="248.0" cy="505.25" r="1.3" fill="#e58a45" fill-opacity="0.45"/>
<circle cx="248.0" cy="499.74" r="1.3" fill="#e58a45" fill-opacity="0.45"/>
<circle cx="248.0" cy="494.79" r="1.3" fill="#e58a45" fill-opacity="0.45"/>
<circle cx="248.0" cy="477.71" r="1.3" fill="#e58a45" fill-opacity="0.45"/>
<circle cx="248.0" cy="471.10" r="1.3" fill="#e58a45" fill-opacity="0.45"/>
<circle cx="248.0" cy="457.88" r="1.3" fill="#e58a45" fill-opacity="0.45"/>
<circle cx="248.0" cy="441.91" r="1.3" fill="#e58a45" fill-opacity="0.45"/>
<circle cx="248.0" cy="434.20" r="1.3" fill="#e58a45" fill-opacity="0.45"/>
<circle cx="248.0" cy="428.14" r="1.3" fill="#e58a45" fill-opacity="0.45"/>
<text x="248.0" y="415.6" font-size="5.6" text-anchor="middle" fill="#231f20" textLength="18.6" lengthAdjust="spacingAndGlyphs"><tspan fill="#444" style="stroke:none">n</tspan> = 19</text>
</g>
</svg>
</body></html>
